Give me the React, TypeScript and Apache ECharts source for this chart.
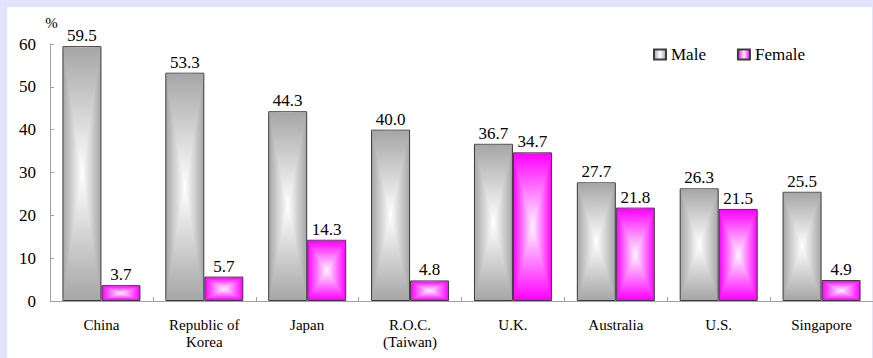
import React, { useEffect, useRef } from "react";
import * as echarts from "echarts";

const categories = ["China", "Republic of\nKorea", "Japan", "R.O.C.\n(Taiwan)", "U.K.", "Australia", "U.S.", "Singapore"];
const maleValues = [59.5, 53.3, 44.3, 40.0, 36.7, 27.7, 26.3, 25.5];
const femaleValues = [3.7, 5.7, 14.3, 4.8, 34.7, 21.8, 21.5, 4.9];
const seriesNames = ["Male", "Female"];
const yMin = 0;
const yMax = 60;
const yInterval = 10;

const BAR_W = 39;
const FONT = "serif";
const MALE_EDGE = "#a6a6a6";
const MALE_CENTER = "#ffffff";
const FEMALE_EDGE = "#ff00ff";
const FEMALE_CENTER = "#fff4ff";

const hGrad = (edge: string, center: string) =>
  new echarts.graphic.LinearGradient(0, 0, 1, 0, [
    { offset: 0, color: edge },
    { offset: 0.5, color: center },
    { offset: 1, color: edge },
  ]);

const makeOverlay = (name: string, values: number[], side: number, edge: string, center: string) => ({
  type: "custom",
  name,
  silent: true,
  z: 3,
  data: values.map((v, i) => [i, v]),
  renderItem: (_params: any, api: any) => {
    const i = api.value(0);
    const v = api.value(1);
    const base = api.coord([i, 0]);
    const top = api.coord([i, v]);
    const c = base[0];
    const x0 = side < 0 ? c - BAR_W : c;
    const x1 = x0 + BAR_W;
    const xm = (x0 + x1) / 2;
    const ym = (top[1] + base[1]) / 2;
    const inset = 1;
    return {
      type: "group",
      children: [
        {
          type: "polygon",
          shape: { points: [[x0 + inset, top[1] + inset], [x1 - inset, top[1] + inset], [xm, ym]] },
          style: {
            fill: new echarts.graphic.LinearGradient(0, 0, 0, 1, [
              { offset: 0, color: edge },
              { offset: 1, color: center },
            ]),
          },
        },
        {
          type: "polygon",
          shape: { points: [[x0 + inset, base[1] - inset], [x1 - inset, base[1] - inset], [xm, ym]] },
          style: {
            fill: new echarts.graphic.LinearGradient(0, 0, 0, 1, [
              { offset: 0, color: center },
              { offset: 1, color: edge },
            ]),
          },
        },
      ],
    };
  },
});

export default function App() {
  const ref = useRef<HTMLDivElement>(null);
  useEffect(() => {
    if (!ref.current) return;
    const chart = echarts.init(ref.current, undefined, { renderer: "svg" });
    const label = {
      show: true,
      position: "top",
      distance: 2,
      color: "#000",
      fontSize: 17,
      fontFamily: FONT,
      formatter: (p: any) => Number(p.value).toFixed(1),
    };
    chart.setOption({
      animation: false,
      backgroundColor: "#e3e3fb",
      textStyle: { fontFamily: FONT },
      graphic: [
        {
          type: "rect",
          z: -10,
          shape: { x: 7, y: 7, width: 865, height: 351 },
          style: { fill: "#ffffff" },
        },
      ],
      grid: { left: 50, right: -1.5, top: 44, bottom: 57, containLabel: false },
      legend: {
        data: seriesNames,
        left: 648,
        top: 41,
        icon: "rect",
        itemWidth: 12,
        itemHeight: 10,
        itemGap: 31,
        textStyle: { fontSize: 17, fontFamily: FONT, color: "#000" },
      },
      xAxis: {
        type: "category",
        data: categories,
        axisLine: { lineStyle: { color: "#a0a0a0", width: 1 } },
        axisTick: { show: true, inside: true, length: 4, lineStyle: { color: "#a0a0a0" } },
        axisLabel: { fontSize: 15, fontFamily: FONT, color: "#000", margin: 15, lineHeight: 17 },
      },
      yAxis: {
        type: "value",
        min: yMin,
        max: yMax,
        interval: yInterval,
        name: "%",
        nameLocation: "end",
        nameGap: 14,
        nameTextStyle: { fontSize: 15, fontFamily: FONT, color: "#000", align: "center", padding: [0, 0, 0, 3] },
        axisLine: { show: true, lineStyle: { color: "#a0a0a0", width: 1 } },
        axisTick: { show: true, inside: true, length: 4, lineStyle: { color: "#a0a0a0" } },
        splitLine: { show: false },
        axisLabel: { fontSize: 17, fontFamily: FONT, color: "#000", margin: 14 },
      },
      series: [
        {
          type: "bar",
          name: seriesNames[0],
          data: maleValues,
          barWidth: BAR_W,
          barGap: "0%",
          itemStyle: { color: hGrad(MALE_EDGE, MALE_CENTER), borderColor: "#3c3c3c", borderWidth: 1 },
          label,
        },
        {
          type: "bar",
          name: seriesNames[1],
          data: femaleValues,
          barWidth: BAR_W,
          barGap: "0%",
          itemStyle: { color: hGrad(FEMALE_EDGE, FEMALE_CENTER), borderColor: "#3c3c3c", borderWidth: 1 },
          label,
        },
        makeOverlay("MaleShade", maleValues, -1, MALE_EDGE, MALE_CENTER),
        makeOverlay("FemaleShade", femaleValues, 1, FEMALE_EDGE, FEMALE_CENTER),
      ],
    });
    return () => chart.dispose();
  }, []);
  return (
    <div
      ref={ref}
      style={{ position: "fixed", left: 0, top: 0, width: 873, height: 358 }}
    />
  );
}
